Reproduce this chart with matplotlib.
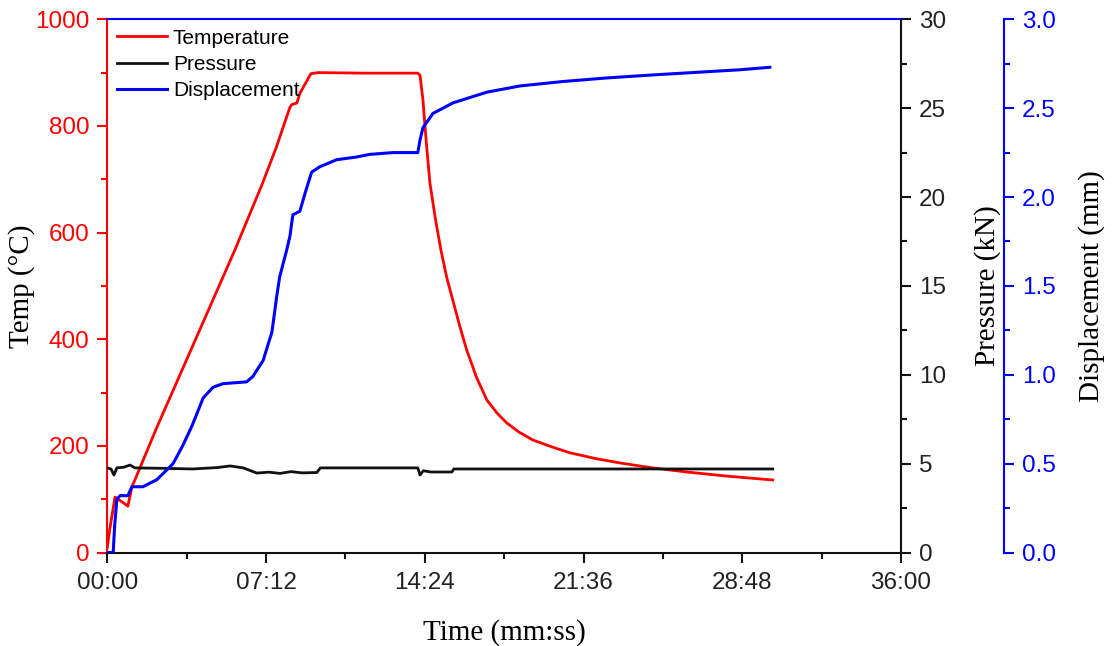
import matplotlib
matplotlib.use("Agg")
import numpy as np
from matplotlib import pyplot as plt
from matplotlib.ticker import MultipleLocator, FuncFormatter

# time in seconds
temp_t = [0, 7, 21, 40, 56, 67, 75, 135, 347, 421, 460, 497, 502, 516, 524, 554, 573,
          700, 845, 851, 859, 868, 878, 893, 908, 924, 940, 959, 978, 1005, 1033, 1060,
          1087, 1120, 1158, 1210, 1259, 1330, 1395, 1480, 1577, 1690, 1811]
temp_v = [10, 45, 104, 95, 87, 123, 136, 235, 567, 690, 760, 835, 840, 843, 861, 898, 900,
          899, 899, 895, 849, 770, 693, 625, 567, 515, 474, 425, 380, 328, 286, 262,
          243, 226, 211, 198, 187, 176, 168, 159, 151, 143, 136]

pres_t = [0, 10, 18, 26, 45, 62, 75, 140, 233, 300, 334, 370, 407, 440, 470, 500, 530,
          570, 580, 700, 845, 851, 860, 880, 938, 943, 1200, 1500, 1811]
pres_v = [4.76, 4.70, 4.36, 4.76, 4.80, 4.92, 4.76, 4.74, 4.70, 4.78, 4.87, 4.76, 4.47,
          4.52, 4.45, 4.55, 4.48, 4.50, 4.76, 4.76, 4.76, 4.36, 4.60, 4.53, 4.53, 4.70,
          4.70, 4.70, 4.70]

disp_t = [0, 16, 20, 26, 35, 56, 67, 97, 135, 179, 205, 230, 261, 288, 315, 379, 396, 424,
          448, 461, 469, 488, 497, 505, 524, 538, 556, 578, 624, 678, 714, 777, 845, 851,
          859, 886, 941, 1033, 1123, 1240, 1359, 1485, 1631, 1721, 1803]
disp_v = [0, 0, 0.15, 0.30, 0.32, 0.32, 0.37, 0.37, 0.41, 0.50, 0.60, 0.71, 0.87, 0.93,
          0.95, 0.96, 0.99, 1.08, 1.24, 1.44, 1.55, 1.70, 1.78, 1.90, 1.92, 2.02, 2.14,
          2.17, 2.21, 2.225, 2.24, 2.25, 2.25, 2.32, 2.39, 2.47, 2.53, 2.59, 2.625, 2.65,
          2.67, 2.687, 2.705, 2.716, 2.73]

sans = "Liberation Sans"
serif = "Liberation Serif"
plt.rcParams["font.family"] = sans

fig = plt.figure(figsize=(11.12, 6.46), dpi=100)
ax = fig.add_axes([107.3 / 1112, 1 - 552.5 / 646, (901 - 107.3) / 1112, (552.5 - 19.3) / 646])
ax2 = ax.twinx()
ax3 = ax.twinx()
ax3.spines["right"].set_position(("outward", 74))

l1, = ax.plot(temp_t, temp_v, color="#ff0000", lw=2, label="Temperature")
l2, = ax2.plot(pres_t, pres_v, color="#111111", lw=2, label="Pressure")
l3, = ax3.plot(disp_t, disp_v, color="#0000ff", lw=2.2, label="Displacement")

ax.set_xlim(0, 2160)
ax.set_ylim(0, 1000)
ax2.set_ylim(0, 30)
ax3.set_ylim(0, 3)

ax.xaxis.set_major_locator(MultipleLocator(432))
ax.xaxis.set_minor_locator(MultipleLocator(216))
ax.xaxis.set_major_formatter(FuncFormatter(lambda t, p: f"{int(t // 60):02d}:{int(round(t % 60)):02d}"))
ax.yaxis.set_major_locator(MultipleLocator(200))
ax.yaxis.set_minor_locator(MultipleLocator(100))
ax2.yaxis.set_major_locator(MultipleLocator(5))
ax2.yaxis.set_minor_locator(MultipleLocator(2.5))
ax3.yaxis.set_major_locator(MultipleLocator(0.5))
ax3.yaxis.set_minor_locator(MultipleLocator(0.25))
ax3.yaxis.set_major_formatter(FuncFormatter(lambda v, p: f"{v:.1f}"))

for a in (ax, ax2, ax3):
    for s in a.spines.values():
        s.set_linewidth(1.5)
    a.tick_params(which="major", direction="out", length=7, width=1.5, labelsize=17.5, pad=6)
    a.tick_params(which="minor", direction="out", length=4, width=1.5)

ax.spines["left"].set_color("#ff0000")
ax.tick_params(axis="y", which="both", colors="#ff0000")
ax.spines["bottom"].set_color("#111111")
ax.tick_params(axis="x", which="both", colors="#111111", labelcolor="#222222", pad=7)
ax.spines["top"].set_visible(False)
ax.spines["right"].set_visible(False)
ax2.spines["right"].set_color("#111111")
ax2.spines["top"].set_visible(False)
ax2.tick_params(axis="y", which="both", colors="#111111", labelcolor="#222222")
ax3.spines["right"].set_color("#0000ff")
ax3.spines["top"].set_color("#0000ff")
ax3.tick_params(axis="y", which="both", colors="#0000ff")
for side in ("left", "bottom"):
    ax2.spines[side].set_visible(False)
    ax3.spines[side].set_visible(False)

ax.set_xlabel("Time (mm:ss)", fontfamily=serif, fontsize=21, labelpad=18)
ax.set_ylabel("Temp (°C)", fontfamily=serif, fontsize=21, labelpad=0)
ax2.set_ylabel("Pressure (kN)", fontfamily=serif, fontsize=21, labelpad=20)
ax3.set_ylabel("Displacement (mm)", fontfamily=serif, fontsize=21, labelpad=16)

ax3.legend(handles=[l1, l2, l3], loc="upper left", bbox_to_anchor=(0, 1), frameon=False,
           fontsize=15, handlelength=2.4, handletextpad=0.3, labelspacing=0.35,
           borderaxespad=0.25, borderpad=0.2)

fig.savefig("out.png", dpi=100)
